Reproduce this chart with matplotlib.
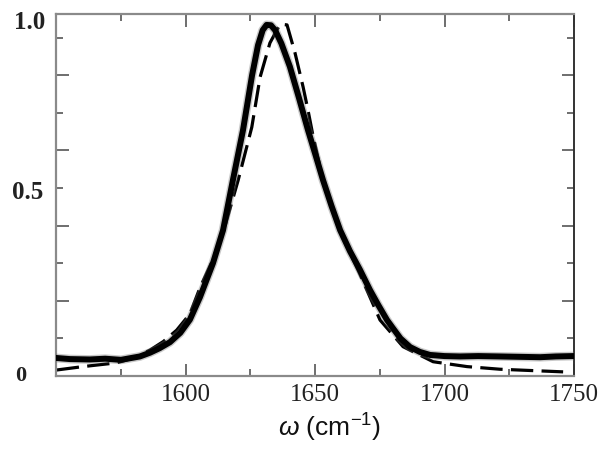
import matplotlib
matplotlib.use("Agg")
import matplotlib.pyplot as plt
from matplotlib.ticker import MultipleLocator, NullFormatter, FixedLocator, FixedFormatter
import matplotlib.transforms as mtransforms

plt.rcParams['mathtext.fontset'] = 'custom'
plt.rcParams['mathtext.rm'] = 'Liberation Sans'
plt.rcParams['mathtext.it'] = 'Liberation Sans:italic'

# measured spectrum (solid, thick)
meas_w = [1550.0, 1555.4, 1563.1, 1569.0, 1575.1, 1582.4, 1586.3, 1590.0, 1594.0, 1598.0,
          1601.7, 1605.6, 1610.6, 1614.5, 1618.3, 1622.2, 1625.7, 1628.0, 1629.8, 1631.3,
          1633.0, 1634.6, 1637.0, 1640.3, 1643.8, 1647.3, 1650.2, 1653.1, 1656.4, 1659.7,
          1663.5, 1667.4, 1671.2, 1674.5, 1677.8, 1680.0, 1683.0, 1686.7, 1690.5, 1694.4,
          1700.0, 1706.0, 1713.0, 1721.4, 1729.0, 1736.9, 1743.0, 1749.6]
meas_i = [0.048, 0.045, 0.044, 0.046, 0.043, 0.052, 0.062, 0.074, 0.090, 0.115,
          0.150, 0.210, 0.300, 0.388, 0.521, 0.654, 0.800, 0.880, 0.920, 0.934,
          0.933, 0.920, 0.885, 0.823, 0.740, 0.654, 0.588, 0.521, 0.452, 0.388,
          0.332, 0.282, 0.229, 0.188, 0.149, 0.128, 0.100, 0.077, 0.064, 0.056,
          0.053, 0.052, 0.053, 0.052, 0.051, 0.050, 0.052, 0.053]

# fit (dashed)
fit_w = [1550.3, 1560.4, 1573.4, 1580.0, 1586.3, 1591.5, 1596.6, 1601.7, 1605.6, 1610.6,
         1615.3, 1620.3, 1625.6, 1628.8, 1632.6, 1636.5, 1639.2, 1642.3, 1645.4, 1647.3,
         1649.2, 1653.1, 1659.7, 1667.4, 1675.1, 1684.0, 1695.6, 1708.7, 1721.4, 1745.8]
fit_i = [0.016, 0.025, 0.035, 0.048, 0.069, 0.092, 0.122, 0.165, 0.235, 0.310,
         0.400, 0.520, 0.662, 0.795, 0.886, 0.936, 0.934, 0.859, 0.769, 0.707,
         0.640, 0.521, 0.385, 0.270, 0.149, 0.078, 0.038, 0.025, 0.018, 0.011]

xticks_major = [1550, 1600, 1650, 1700, 1750]
xtick_labels = ["", "1600", "1650", "1700", "1750"]
ytick_labels = ["0", "0.5", "1.0"]
ytick_label_pos = [0.0, 0.487, 0.941]

fig = plt.figure(figsize=(6.0, 4.51), dpi=100)
ax = fig.add_axes([56/600, 1-376/451, 518/600, 362/451])

ax.plot(fit_w, fit_i, color='black', lw=2.3, ls=(0, (7.0, 2.6)), zorder=2,
        dash_capstyle='butt')
ax.plot(meas_w, meas_i, color='#666666', lw=6.3, alpha=0.35, zorder=3,
        solid_joinstyle='round')
ax.plot(meas_w, meas_i, color='black', lw=4.3, zorder=4, solid_joinstyle='round')

ax.set_xlim(1550, 1750)
ax.set_ylim(0, 0.963)

ax.xaxis.set_major_locator(FixedLocator(xticks_major))
ax.xaxis.set_major_formatter(FixedFormatter(xtick_labels))
ax.xaxis.set_minor_locator(MultipleLocator(25))
ax.yaxis.set_major_locator(MultipleLocator(0.2))
ax.yaxis.set_minor_locator(MultipleLocator(0.1))
ax.yaxis.set_major_formatter(NullFormatter())

ax.tick_params(which='both', direction='in', top=True, right=True,
               colors='#555555', width=1.2)
ax.tick_params(which='major', length=9)
ax.tick_params(which='minor', length=5)
ax.tick_params(axis='x', which='major', labelsize=18, pad=6, labelcolor='#222222')
for lab in ax.get_xticklabels():
    lab.set_fontfamily('Liberation Serif')

for side in ['top', 'bottom', 'left']:
    ax.spines[side].set_color('#8a8a8a')
    ax.spines[side].set_linewidth(1.6)
ax.spines['right'].set_color('#333333')
ax.spines['right'].set_linewidth(1.4)

trans = mtransforms.blended_transform_factory(fig.transFigure, ax.transData)
rights = [26/600, 43/600, 45/600]
sizes = [16, 18, 18]
for lab, yp, xr, s in zip(ytick_labels, ytick_label_pos, rights, sizes):
    fig.text(xr, yp, lab, transform=trans, ha='right', va='center',
             fontsize=s, family='Liberation Serif', fontweight='bold', color='#222222')

fig.text(330/600, 1-428/451, r"$\omega$ (cm$^{-1}$)", ha='center', va='center',
         fontsize=19, family='Liberation Sans', color='#111111')

fig.savefig("out.png", dpi=100)
